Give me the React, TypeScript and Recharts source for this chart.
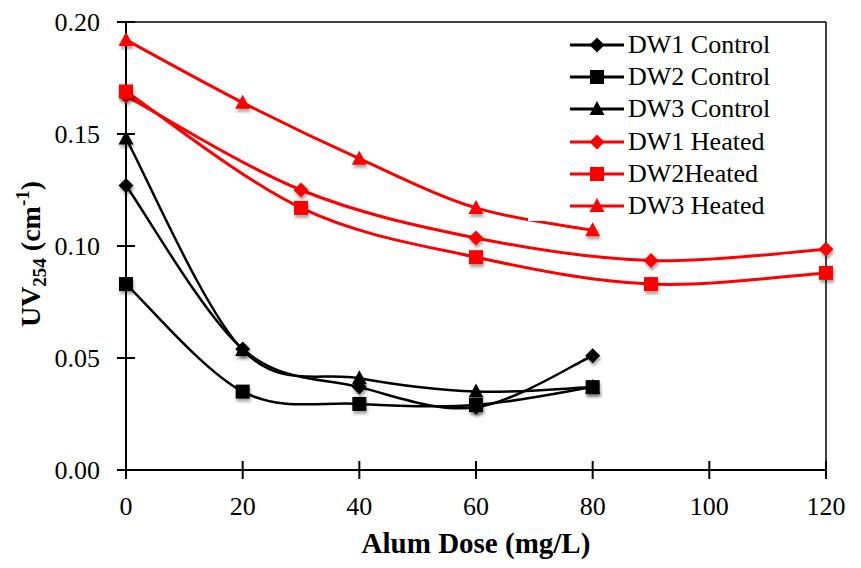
import { LineChart, Line, XAxis, YAxis, ReferenceLine } from "recharts";

// Alum dose (mg/L) used for each run
const controlDoses = [0, 20, 40, 60, 80];
const heatedDoses = [0, 30, 60, 90, 120];
const dw3HeatedDoses = [0, 20, 40, 60, 80];

// UV254 (cm-1) readings
const dw1Control = [0.127, 0.054, 0.037, 0.028, 0.051];
const dw2Control = [0.083, 0.035, 0.0295, 0.029, 0.037];
const dw3Control = [0.148, 0.0536, 0.041, 0.035, 0.037];
const dw1Heated = [0.167, 0.125, 0.1036, 0.0935, 0.0985];
const dw2Heated = [0.169, 0.117, 0.095, 0.083, 0.088];
const dw3Heated = [0.192, 0.164, 0.139, 0.117, 0.107];

const xTicks = [0, 20, 40, 60, 80, 100, 120];
const yTicks = [0, 0.05, 0.1, 0.15, 0.2];

const FONT = '"Liberation Serif", "Times New Roman", serif';

type Shape = "diamond" | "square" | "triangle";

const toPoints = (xs: number[], ys: number[]) =>
  xs.map((x, i) => ({ x, y: ys[i] }));

const series = [
  { name: "DW1 Control", data: toPoints(controlDoses, dw1Control), color: "#000000", shape: "diamond" as Shape, width: 2.5 },
  { name: "DW2 Control", data: toPoints(controlDoses, dw2Control), color: "#000000", shape: "square" as Shape, width: 2.5 },
  { name: "DW3 Control", data: toPoints(controlDoses, dw3Control), color: "#000000", shape: "triangle" as Shape, width: 2.5 },
  { name: "DW1 Heated", data: toPoints(heatedDoses, dw1Heated), color: "#ff0000", shape: "diamond" as Shape, width: 3 },
  { name: "DW2Heated", data: toPoints(heatedDoses, dw2Heated), color: "#ff0000", shape: "square" as Shape, width: 3 },
  { name: "DW3 Heated", data: toPoints(dw3HeatedDoses, dw3Heated), color: "#ff0000", shape: "triangle" as Shape, width: 3 },
];

// Catmull-Rom style smoothing (like spreadsheet "smoothed line")
function smoothCurve(context: any) {
  let pts: [number, number][] = [];
  return {
    areaStart() {},
    areaEnd() {},
    lineStart() {
      pts = [];
    },
    point(x: number, y: number) {
      pts.push([+x, +y]);
    },
    lineEnd() {
      if (!pts.length) return;
      context.moveTo(pts[0][0], pts[0][1]);
      const n = pts.length;
      for (let i = 0; i < n - 1; i++) {
        const p0 = pts[Math.max(i - 1, 0)];
        const p1 = pts[i];
        const p2 = pts[i + 1];
        const p3 = pts[Math.min(i + 2, n - 1)];
        context.bezierCurveTo(
          p1[0] + (p2[0] - p0[0]) / 6,
          p1[1] + (p2[1] - p0[1]) / 6,
          p2[0] - (p3[0] - p1[0]) / 6,
          p2[1] - (p3[1] - p1[1]) / 6,
          p2[0],
          p2[1]
        );
      }
    },
  };
}

function Marker({ cx, cy, shape, color, shadow = true }: { cx: number; cy: number; shape: Shape; color: string; shadow?: boolean }) {
  const filter = shadow ? "url(#mk-shadow)" : undefined;
  if (shape === "diamond") {
    const r = 7.5;
    return <path d={`M${cx},${cy - r}L${cx + r},${cy}L${cx},${cy + r}L${cx - r},${cy}Z`} fill={color} filter={filter} />;
  }
  if (shape === "square") {
    const r = 7;
    return <rect x={cx - r} y={cy - r} width={2 * r} height={2 * r} fill={color} filter={filter} />;
  }
  const w = 7.5;
  return <path d={`M${cx},${cy - 8}L${cx + w},${cy + 6}L${cx - w},${cy + 6}Z`} fill={color} filter={filter} />;
}

function YTick({ x, y, payload }: any) {
  const axisX = x + 26;
  return (
    <g>
      <line x1={axisX - 9} x2={axisX + 9} y1={y} y2={y} stroke="#000" strokeWidth={2} />
      <text x={x} y={y} dy="0.355em" textAnchor="end" fontFamily={FONT} fontSize={26} fill="#000">
        {payload.value.toFixed(2)}
      </text>
    </g>
  );
}

function XTick({ x, y, payload }: any) {
  const axisY = y - 27;
  return (
    <g>
      <line x1={x} x2={x} y1={axisY - 9} y2={axisY + 9} stroke="#000" strokeWidth={2} />
      <text x={x} y={y} dy="0.71em" textAnchor="middle" fontFamily={FONT} fontSize={26} fill="#000">
        {payload.value}
      </text>
    </g>
  );
}

function XTitle({ viewBox }: any) {
  return (
    <text x={viewBox.x + viewBox.width / 2} y={553} textAnchor="middle" fontFamily={FONT} fontWeight="bold" fontSize={29} fill="#000">
      Alum Dose (mg/L)
    </text>
  );
}

function YTitle() {
  const cx = 40;
  const cy = 254;
  return (
    <text x={cx} y={cy} transform={`rotate(-90, ${cx}, ${cy})`} textAnchor="middle" fontFamily={FONT} fontWeight="bold" fontSize={28} fill="#000">
      UV
      <tspan fontSize={19} dy={6}>254</tspan>
      <tspan dy={-6}> (cm</tspan>
      <tspan fontSize={19} dy={-11}>-1</tspan>
      <tspan dy={11}>)</tspan>
    </text>
  );
}

function LegendBox() {
  return (
    <div
      style={{
        position: "absolute",
        left: 528,
        top: 26,
        width: 295,
        height: 195,
        background: "#fff",
      }}
    >
      {series.map((s, i) => (
        <div key={s.name} style={{ position: "absolute", left: 42, top: 3 + i * 32.2, height: 32, display: "flex", alignItems: "center" }}>
          <svg width={56} height={32} style={{ display: "block" }}>
            <line x1={0} x2={54} y1={16} y2={16} stroke={s.color} strokeWidth={3} />
            <Marker cx={27} cy={16} shape={s.shape} color={s.color} shadow={false} />
          </svg>
          <span style={{ fontFamily: FONT, fontSize: 26, color: "#000", marginLeft: 2, whiteSpace: "pre", lineHeight: "32px" }}>{s.name}</span>
        </div>
      ))}
    </div>
  );
}

export default function App() {
  return (
    <div style={{ position: "absolute", left: 0, top: 0, width: 861, height: 568, background: "#fff" }}>
      <svg width={0} height={0} style={{ position: "absolute" }}>
        <defs>
          <filter id="mk-shadow" x="-60%" y="-60%" width="220%" height="220%">
            <feDropShadow dx={1} dy={3} stdDeviation={1.8} floodColor="#000" floodOpacity={0.35} />
          </filter>
        </defs>
      </svg>
      <LineChart width={861} height={568} margin={{ top: 22, right: 35, left: 0, bottom: 0 }}>
        <XAxis
          type="number"
          dataKey="x"
          domain={[0, 120]}
          ticks={xTicks}
          interval={0}
          height={98}
          tickSize={9}
          tickMargin={18}
          tickLine={false}
          tick={<XTick />}
          axisLine={{ stroke: "#000", strokeWidth: 2 }}
          label={<XTitle />}
          allowDuplicatedCategory={false}
        />
        <YAxis
          type="number"
          domain={[0, 0.2]}
          ticks={yTicks}
          interval={0}
          width={126}
          tickSize={9}
          tickMargin={17}
          tickLine={false}
          tick={<YTick />}
          axisLine={{ stroke: "#000", strokeWidth: 2 }}
          label={<YTitle />}
        />
        <ReferenceLine y={0.2} stroke="#000" strokeWidth={1.5} />
        <ReferenceLine x={120} stroke="#000" strokeWidth={1.5} />
        {series.map((s) => (
          <Line
            key={s.name}
            name={s.name}
            data={s.data}
            dataKey="y"
            type={smoothCurve as any}
            stroke={s.color}
            strokeWidth={s.width}
            isAnimationActive={false}
            dot={(p: any) => (
              <Marker key={`${s.name}-${p.index}`} cx={p.cx} cy={p.cy} shape={s.shape} color={s.color} />
            )}
            activeDot={false}
          />
        ))}
      </LineChart>
      <LegendBox />
    </div>
  );
}
